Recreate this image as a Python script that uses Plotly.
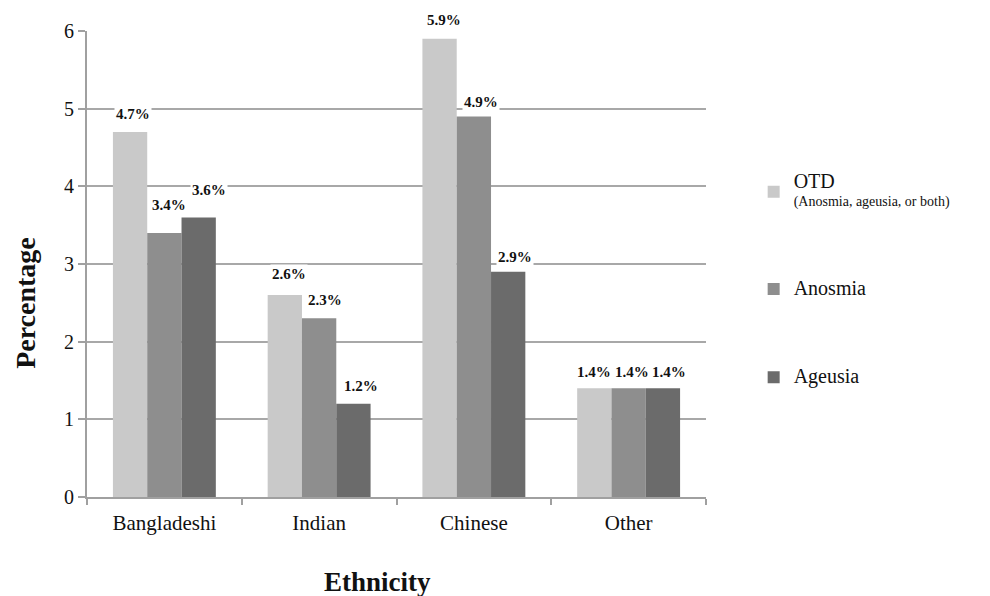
import plotly.graph_objects as go

categories = ["Bangladeshi", "Indian", "Chinese", "Other"]
series_names = ["OTD", "Anosmia", "Ageusia"]
otd = [4.7, 2.6, 5.9, 1.4]
anosmia = [3.4, 2.3, 4.9, 1.4]
ageusia = [3.6, 1.2, 2.9, 1.4]
y_ticks = [0, 1, 2, 3, 4, 5, 6]

values = [otd, anosmia, ageusia]
colors = ["#c9c9c9", "#8e8e8e", "#6b6b6b"]
legend_labels = [
    "<span style='font-size:20px'>OTD</span><br>(Anosmia, ageusia, or both)",
    "<span style='font-size:20px'>Anosmia</span>",
    "<span style='font-size:20px'>Ageusia</span>",
]
# label placement offsets (px) per series / category
label_lift = [[18, 21, 19, 16], [28, 18, 14, 16], [27, 18, 15, 16]]
label_nudge = [[3, 4, 4, 0], [5, 6, 7, 3], [10, 8, 7, 6]]

FONT = "Liberation Serif"
INK = "#111111"
bargap = 0.335
n = len(series_names)
w = (1 - bargap) / n

fig = go.Figure()
for j in range(n):
    fig.add_trace(go.Bar(
        x=categories, y=values[j], name=legend_labels[j],
        marker=dict(color=colors[j], line=dict(width=0)),
        legendgroup=series_names[j],
    ))

annotations = []
for j in range(n):
    for i, v in enumerate(values[j]):
        annotations.append(dict(
            x=i + (j - (n - 1) / 2) * w, y=v, xref="x", yref="y",
            text=f"<b>{v:.1f}%</b>", showarrow=False,
            xanchor="center", yanchor="middle",
            xshift=label_nudge[j][i], yshift=label_lift[j][i],
            bgcolor="white", borderpad=1,
            font=dict(family=FONT, size=15, color=INK),
        ))

# axis titles (placed off-centre as in the original)
annotations.append(dict(
    x=-0.0985, y=0.4167, xref="paper", yref="paper", textangle=-90,
    text="<b>Percentage</b>", showarrow=False, xanchor="center", yanchor="middle",
    font=dict(family=FONT, size=28, color=INK),
))
annotations.append(dict(
    x=0.4693, y=-0.1816, xref="paper", yref="paper",
    text="<b>Ethnicity</b>", showarrow=False, xanchor="center", yanchor="middle",
    font=dict(family=FONT, size=27, color=INK),
))

fig.update_layout(
    width=990, height=596,
    margin=dict(l=79, r=292, t=21, b=107),
    paper_bgcolor="white", plot_bgcolor="white",
    barmode="group", bargap=bargap, bargroupgap=0,
    font=dict(family=FONT, color=INK),
    showlegend=True,
    legend=dict(
        x=1.077, y=0.708, xanchor="left", yanchor="top",
        font=dict(family=FONT, size=14, color=INK),
        tracegroupgap=67, valign="middle",
        bgcolor="rgba(0,0,0,0)",
    ),
    annotations=annotations,
    xaxis=dict(
        showline=True, linecolor="#a0a0a0", linewidth=2,
        ticks="outside", tickson="boundaries", ticklen=6,
        tickcolor="#a0a0a0", tickwidth=2, ticklabelstandoff=6,
        tickfont=dict(family=FONT, size=21, color=INK),
        showgrid=False,
    ),
    yaxis=dict(
        range=[0, 6], tickvals=y_ticks,
        showline=True, linecolor="#a0a0a0", linewidth=2,
        ticks="outside", ticklen=7, tickcolor="#a0a0a0", tickwidth=2,
        showgrid=True, gridcolor="#a8a8a8", gridwidth=2,
        zeroline=False,
        tickfont=dict(family=FONT, size=20, color=INK),
    ),
)

fig.write_html("out.html")
